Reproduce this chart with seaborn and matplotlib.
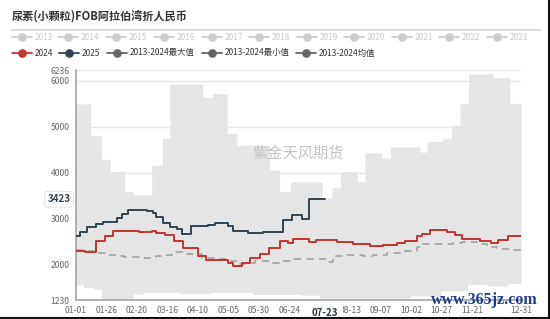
import numpy as np
import pandas as pd
import matplotlib
matplotlib.use("Agg")
import matplotlib.pyplot as plt
import matplotlib.transforms as mtransforms
from matplotlib.lines import Line2D
import seaborn as sns

# ---------------- data ----------------
title = "尿素(小颗粒)FOB阿拉伯湾折人民币"
legend_inactive = ["2013", "2014", "2015", "2016", "2017", "2018",
                   "2019", "2020", "2021", "2022", "2023"]
legend_active = ["2024", "2025", "2013-2024最大值", "2013-2024最小值", "2013-2024均值"]

dates_2024 = ["01-01", "01-08", "01-17", "01-25", "01-31", "02-22", "03-03", "03-07",
              "03-14", "03-21", "03-29", "04-10", "04-17", "05-05", "05-09", "05-16",
              "05-23", "05-31", "06-07", "06-16", "06-23", "06-27", "07-10", "07-16",
              "08-02", "08-15", "08-29", "09-09", "09-20", "09-27", "10-07", "10-11",
              "10-17", "10-31", "11-07", "11-13", "11-27", "12-06", "12-12", "12-20", "12-31"]
vals_2024 = [2290, 2275, 2508, 2615, 2735, 2705, 2730, 2690,
             2640, 2510, 2360, 2198, 2097, 2040, 1968, 2035,
             2135, 2225, 2365, 2508, 2470, 2560, 2500, 2535,
             2494, 2450, 2400, 2420, 2460, 2522, 2615, 2667,
             2745, 2710, 2652, 2560, 2522, 2472, 2544, 2615, 2615]

dates_2025 = ["01-01", "01-04", "01-10", "01-17", "01-23", "02-04", "02-08", "02-13",
              "02-28", "03-04", "03-07", "03-12", "03-18", "03-24", "03-28", "04-04",
              "04-18", "04-24", "05-05", "05-09", "05-21", "06-02", "06-19", "06-26",
              "07-04", "07-10", "07-23"]
vals_2025 = [2615, 2702, 2810, 2883, 2926, 3012, 3106, 3192,
             3170, 3120, 3034, 2905, 2818, 2775, 2674, 2846,
             2868, 2905, 2832, 2724, 2688, 2710, 2976, 3084,
             3000, 3423, 3423]

dates_mean = ["01-01", "01-11", "01-18", "01-25", "02-04", "02-09", "02-25", "03-07",
              "03-16", "03-20", "03-29", "04-13", "04-26", "05-05", "05-13", "05-19",
              "05-27", "06-10", "06-18", "06-26", "07-25", "07-30", "08-10", "08-23",
              "09-01", "09-12", "09-25", "10-07", "10-12", "11-05", "11-13", "11-25",
              "12-03", "12-11", "12-22", "12-31"]
vals_mean = [2313, 2290, 2256, 2205, 2184, 2162, 2140, 2184,
             2220, 2270, 2230, 2140, 2112, 2075, 2010, 2040,
             2075, 2040, 2075, 2112, 2050, 2184, 2205, 2184,
             2220, 2256, 2292, 2387, 2450, 2470, 2486, 2450,
             2380, 2350, 2320, 2310]

dates_max = ["01-01", "01-13", "01-22", "01-29", "02-10", "02-17", "03-03", "03-12",
             "03-18", "04-14", "04-22", "05-04", "05-12", "06-08", "06-16", "06-25",
             "07-21", "07-29", "08-05", "08-19", "08-25", "09-08", "09-15", "10-09",
             "10-15", "10-28", "11-04", "11-11", "11-18", "12-08", "12-22", "12-31"]
vals_max = [5500, 4810, 4290, 4030, 3590, 3520, 4160, 4750,
            5930, 5640, 5720, 4850, 4600, 4060, 3590, 3800,
            3450, 3670, 4020, 3800, 4430, 4320, 4560, 4450,
            4680, 4750, 5030, 5500, 6150, 6070, 5510, 5510]

dates_min = ["01-01", "01-07", "01-15", "01-22", "02-17", "02-25", "03-26", "04-20",
             "05-25", "07-03", "07-19", "10-01", "10-26", "11-17", "12-03", "12-20", "12-31"]
vals_min = [1572, 1500, 1464, 1230, 1356, 1393, 1370, 1393,
            1350, 1334, 1275, 1320, 1428, 1572, 1536, 1594, 1594]

tick_dates = ["01-01", "01-26", "02-20", "03-16", "04-10", "05-05", "05-30", "06-24",
              "07-19", "08-13", "09-07", "10-02", "10-27", "11-21", "12-31"]
hidden_tick_labels = ["07-19"]   # covered by the axis-pointer label in the reference
y_ticks = [1230, 2000, 3000, 4000, 5000, 6000, 6236]
pointer_date = "07-23"
pointer_value = 3423
watermark = "紫金天风期货"
site_mark = "www.365jz.com"

# ---------------- helpers ----------------
def idx(md):
    """category index of a MM-DD date on the (leap-year) day axis"""
    return int(pd.Timestamp("2024-" + md).dayofyear) - 1

def frame(dates, vals, name):
    return pd.DataFrame({"x": [idx(d) for d in dates], "value": vals, "series": name})

df24 = frame(dates_2024, vals_2024, "2024")
df25 = frame(dates_2025, vals_2025, "2025")
dfmean = frame(dates_mean, vals_mean, "mean")

n_days = idx("12-31") + 1
full = pd.DataFrame({"x": np.arange(n_days)})
band = full.merge(frame(dates_max, vals_max, "max")[["x", "value"]].rename(columns={"value": "max"}),
                  on="x", how="left")
band = band.merge(frame(dates_min, vals_min, "min")[["x", "value"]].rename(columns={"value": "min"}),
                  on="x", how="left").ffill()

# ---------------- style ----------------
sns.set_theme(style="white")
plt.rcParams["font.family"] = ["Noto Sans CJK SC", "DejaVu Sans"]

W, H = 550, 319
fig = plt.figure(figsize=(W / 100, H / 100), dpi=100)
L, R, T, B = 76, 521, 70, 300
ax = fig.add_axes([L / W, 1 - B / H, (R - L) / W, (B - T) / H])

c24 = "#c23531"
c25 = "#2f4554"
cmean = "#a8a8a8"
cband = "#e5e5e5"

# grid
for yv in y_ticks[1:]:
    ax.axhline(yv, color="#e6e6e6", lw=1.0, zorder=0)

ax.fill_between(band["x"], band["min"], band["max"], step="post",
                color=cband, lw=0, zorder=1)

sns.lineplot(data=dfmean, x="x", y="value", ax=ax, color=cmean, lw=1.3,
             drawstyle="steps-post", estimator=None, dashes=False, zorder=3)
ax.lines[-1].set_dashes([4, 3])
sns.lineplot(data=df24, x="x", y="value", ax=ax, color=c24, lw=1.4,
             drawstyle="steps-post", estimator=None, zorder=4)
sns.lineplot(data=df25, x="x", y="value", ax=ax, color=c25, lw=1.4,
             drawstyle="steps-post", estimator=None, zorder=5)

ax.set_xlim(0, n_days - 1)
ax.set_ylim(y_ticks[0], y_ticks[-1])
ax.set_xlabel("")
ax.set_ylabel("")

ax.set_yticks(y_ticks)
ax.set_yticklabels([str(v) for v in y_ticks])
ax.set_xticks([idx(d) for d in tick_dates])
ax.set_xticklabels(["" if d in hidden_tick_labels else d for d in tick_dates])
ax.tick_params(axis="both", labelsize=6.2, length=3, width=0.8,
               direction="out", pad=1.5)
ax.tick_params(axis="x", colors="#999999", labelcolor="#666666")
ax.tick_params(axis="y", colors="#999999", labelcolor="#666666")
for s in ["top", "right"]:
    ax.spines[s].set_visible(False)
for s in ["left", "bottom"]:
    ax.spines[s].set_color("#aaaaaa")
    ax.spines[s].set_linewidth(1.3)

# watermark in plot
ax.text(0.5, 0.64, watermark, transform=ax.transAxes, ha="center", va="center",
        fontsize=11, color="#c4c4c4", zorder=2)

# axis pointer labels
tx = mtransforms.blended_transform_factory(ax.transData, ax.transAxes)
ax.text(idx(pointer_date), -0.058, pointer_date, transform=tx, ha="center", va="center",
        fontsize=7, fontweight="bold", color="#2b3a47", zorder=10, clip_on=False,
        bbox=dict(boxstyle="square,pad=0.55", fc="white", ec="none"))
ty = mtransforms.blended_transform_factory(ax.transAxes, ax.transData)
ax.text(-0.038, pointer_value, str(pointer_value), transform=ty, ha="center", va="center",
        fontsize=7, fontweight="bold", color=c25, zorder=10, clip_on=False,
        bbox=dict(boxstyle="round,pad=0.3", fc="white", ec="#dddddd", lw=0.6))

# title + underline
fig.text(12 / W, 1 - 16.5 / H, title, ha="left", va="center", fontsize=8,
         fontweight="bold", color="#333333")
fig.add_artist(Line2D([12 / W, 540 / W], [1 - 30 / H, 1 - 30 / H],
                      color="#dcdcdc", lw=1.5, transform=fig.transFigure))

# legend
def legend_item(x_text, y_px, label, color, text_color):
    yf = 1 - y_px / H
    fig.add_artist(Line2D([(x_text - 23) / W, (x_text - 3) / W], [yf, yf],
                          color=color, lw=1.3, transform=fig.transFigure))
    fig.add_artist(Line2D([(x_text - 13) / W], [yf], marker="o", ms=5.2,
                          color=color, transform=fig.transFigure))
    fig.text(x_text / W, yf, label, ha="left", va="center", fontsize=6,
             color=text_color)

row1_x = [35, 81, 129, 177, 225, 272, 320, 367, 415, 462, 510]
for xx, lab in zip(row1_x, legend_inactive):
    legend_item(xx, 37, lab, "#cccccc", "#cccccc")
row2_x = [35, 82, 130, 225, 319]
row2_c = [c24, c25, "#666666", "#666666", "#666666"]
for xx, lab, cc in zip(row2_x, legend_active, row2_c):
    legend_item(xx, 53, lab, cc, "#333333")

# site mark
fig.text(484 / W, 1 - 300 / H, site_mark, ha="center", va="center", fontsize=11.5,
         family="Liberation Serif", color="#1e3c8c", fontweight="bold")

# border lines (right/bottom)
fig.add_artist(Line2D([548.5 / W, 548.5 / W], [0, 1], color="#111111", lw=1.5,
                      transform=fig.transFigure))
fig.add_artist(Line2D([0, 1], [0.8 / H, 0.8 / H], color="#111111", lw=1.5,
                      transform=fig.transFigure))

fig.savefig("out.png", dpi=100)
